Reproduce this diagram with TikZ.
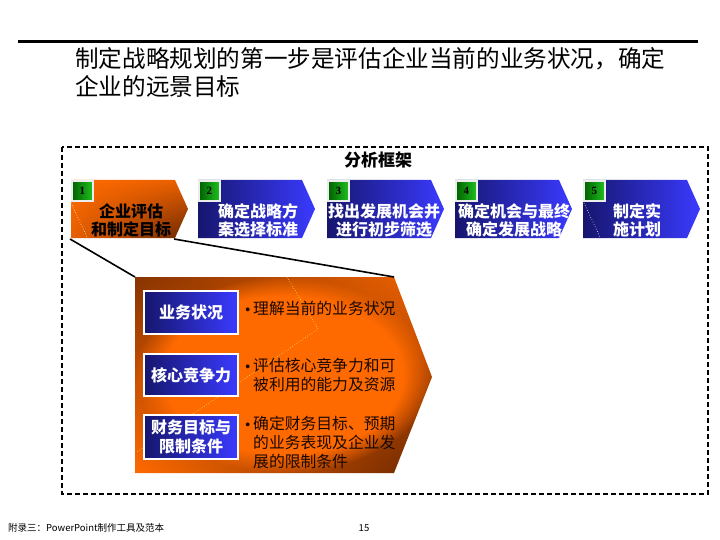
\documentclass[tikz,border=0pt]{standalone}
\usepackage{fontspec}
\setmainfont{Noto Sans CJK SC}
\newfontfamily\numfont{Liberation Serif}
\newfontfamily\bulfont{Liberation Sans}
\usetikzlibrary{fadings,shadings}
\definecolor{navy}{HTML}{16166E}
\definecolor{bblue}{HTML}{3A3AFF}
\definecolor{org}{HTML}{FF6A00}
\definecolor{dbrown}{HTML}{6A2600}
\definecolor{gdark}{HTML}{006000}
\definecolor{glight}{HTML}{20C020}
\definecolor{txtdark}{HTML}{1A0800}
\newcommand{\mybul}{\llap{\bulfont\fontsize{14}{14}\selectfont\textbullet\kern3pt}}
\tikzset{
  chevtext/.style={font=\fontsize{16}{18}\selectfont\bfseries, align=center, inner sep=0pt},
  numbox/.style={draw=white!85!gray, line width=1.6pt, left color=gdark, right color=glight, minimum width=21pt, minimum height=20pt, inner sep=0pt, anchor=north west},
  bluebox/.style={draw=white, line width=2pt, left color=navy, right color=bblue, minimum width=94pt, inner sep=0pt, anchor=north west, text=white, font=\fontsize{16}{19}\selectfont\bfseries, align=center},
  bullettext/.style={anchor=north west, align=left, inner sep=0pt, text=txtdark, font=\fontsize{15.8}{18.8}\selectfont},
  connector/.style={draw=black, line width=1.6pt},
  frame/.style={draw=black, line width=1.6pt, dash pattern=on 5pt off 3pt}
}
\begin{document}
\begin{tikzpicture}[x=1pt,y=-1pt]
\useasboundingbox[fill=white] (0,0) rectangle (720,540);

% top rule and title
\draw[line width=3pt] (18,42) -- (698,42);
\node[anchor=north west, align=left, inner sep=0pt, font=\fontsize{23.6}{28}\selectfont] (title) at (75,47)
  {制定战略规划的第一步是评估企业当前的业务状况，确定\\企业的远景目标};

% dashed frame
\draw[frame] (62,147) rectangle (708,494);
\node[font=\fontsize{17}{20}\selectfont\bfseries, inner sep=0pt] (frtitle) at (378,160) {分析框架};

% chevron 1 (orange)
\shade[upper left=org, upper right=org!85!dbrown, lower left=org!85!dbrown, lower right=dbrown]
  (71,180) -- (175,180) -- (188,209) -- (175,238) -- (71,238) -- cycle;
\draw[white, dotted, line width=0.6pt] (71,203) -- (87,237);
\coordinate (c1bl) at (70,239);
\coordinate (c1br) at (174,239);
% chevrons 2-5 (blue)
\foreach \L in {198,327,455,583}{
  \shade[shading angle=60, left color=navy, right color=bblue]
    (\L,180) -- (\L+104,180) -- (\L+117,209) -- (\L+104,238) -- (\L,238) -- cycle;
}
\draw[white, dotted, line width=0.6pt] (584,203) -- (600,237);

% number boxes
\node[numbox] (n1) at (71,180) {\numfont\bfseries\fontsize{11}{12}\selectfont 1};
\node[numbox] (n2) at (198,180) {\numfont\bfseries\fontsize{11}{12}\selectfont 2};
\node[numbox] (n3) at (327,180) {\numfont\bfseries\fontsize{11}{12}\selectfont 3};
\node[numbox] (n4) at (455,180) {\numfont\bfseries\fontsize{11}{12}\selectfont 4};
\node[numbox] (n5) at (583,180) {\numfont\bfseries\fontsize{11}{12}\selectfont 5};

% chevron texts
\node[chevtext, text=black] (t1) at (131,220) {企业评估\\和制定目标};
\node[chevtext, text=white] (t2) at (258,220) {确定战略方\\案选择标准};
\node[chevtext, text=white] (t3) at (384,220) {找出发展机会并\\进行初步筛选};
\node[chevtext, text=white] (t4) at (514,220) {确定机会与最终\\确定发展战略};
\node[chevtext, text=white] (t5) at (637,220) {制定实\\施计划};

% detail panel
\coordinate (ptl) at (135,277);
\coordinate (ptr) at (394,277);
\shade[upper left=dbrown!80!org, upper right=org!90!dbrown, lower left=org, lower right=dbrown]
  (ptl) -- (ptr) -- (432,377) -- (394,473) -- (135,473) -- cycle;
\fill[org, path fading=circle with fuzzy edge 20 percent]
  (ptl) -- (ptr) -- (432,377) -- (394,473) -- (135,473) -- cycle;
\draw[yellow!70!white, dotted, line width=0.6pt] (287,277) -- (318,329) -- (137,452);

% connectors
\draw[connector] (c1bl) -- (ptl);
\draw[connector] (c1br) -- (ptr);

% blue boxes
\node[bluebox, minimum height=43pt] (b1) at (143,290) {业务状况};
\node[bluebox, minimum height=42pt] (b2) at (143,353) {核心竞争力};
\node[bluebox, minimum height=44pt] (b3) at (143,414) {财务目标与\\限制条件};

% bullets
\node[bullettext] (p1) at (253,301) {\mybul 理解当前的业务状况};
\node[bullettext] (p2) at (253,358) {\mybul 评估核心竞争力和可\\被利用的能力及资源};
\node[bullettext] (p3) at (253,416) {\mybul 确定财务目标、预期\\的业务表现及企业发\\展的限制条件};

% footer
\node[anchor=west, inner sep=0pt, font=\fontsize{9.5}{11}\selectfont] (foot) at (8,528) {附录三：PowerPoint制作工具及范本};
\node[inner sep=0pt, font=\fontsize{9.5}{11}\selectfont] (page) at (364,528) {15};
\end{tikzpicture}
\end{document}
